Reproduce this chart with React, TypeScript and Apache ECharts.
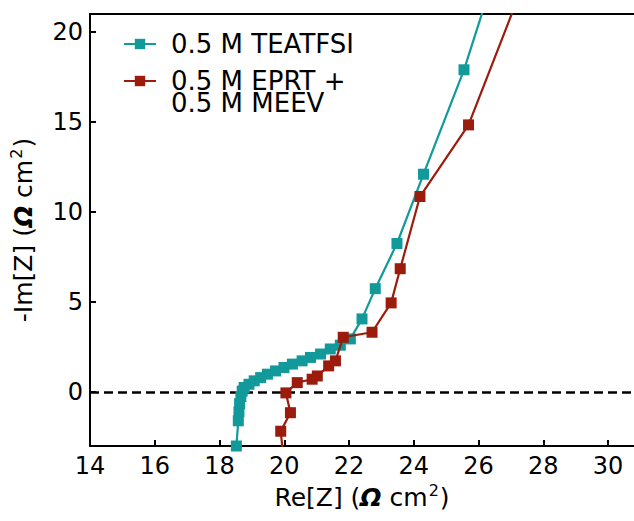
import React, { useEffect, useRef } from "react";
import * as echarts from "echarts";

// 0.5 M TEATFSI (teal)
const teatfsiRe = [18.52, 18.58, 18.6, 18.62, 18.66, 18.7, 18.76, 18.91, 19.07, 19.27, 19.48, 19.73, 19.99, 20.25, 20.55, 20.81, 21.12, 21.42, 21.73, 22.04, 22.4, 22.81, 23.48, 24.3, 25.55, 26.9];
const teatfsiIm = [-3.0, -1.6, -1.1, -0.65, -0.25, 0.05, 0.25, 0.43, 0.62, 0.8, 0.99, 1.17, 1.36, 1.55, 1.73, 1.92, 2.11, 2.39, 2.6, 2.95, 4.06, 5.74, 8.25, 12.1, 17.9, 25.5];

// 0.5 M EPRT + 0.5 M MEEV (red)
const eprtRe = [19.97, 19.89, 20.19, 20.05, 20.4, 20.86, 21.02, 21.37, 21.58, 21.82, 22.71, 23.3, 23.58, 24.19, 25.69, 27.5];
const eprtIm = [-3.6, -2.18, -1.15, -0.05, 0.52, 0.71, 0.89, 1.45, 1.73, 3.04, 3.32, 4.95, 6.85, 10.86, 14.84, 23.2];

const xTicks = [14, 16, 18, 20, 22, 24, 26, 28, 30];
const yTicks = [0, 5, 10, 15, 20];

const seriesNames = ["0.5 M TEATFSI", "0.5 M EPRT +\n0.5 M MEEV"];

const TEAL = "#12999a";
const RED = "#9b1b0c";
const FONT = "DejaVu Sans";

export default function App() {
  const ref = useRef<HTMLDivElement>(null);
  useEffect(() => {
    if (!ref.current) return;
    const chart = echarts.init(ref.current, undefined, { renderer: "svg" });
    const rich = {
      a: { fontSize: 25, fontFamily: FONT, color: "#000", lineHeight: 30 },
      b: { fontSize: 25, fontFamily: FONT, color: "#000", fontWeight: "bold", fontStyle: "italic", lineHeight: 30 },
      c: { fontSize: 16, fontFamily: FONT, color: "#000", padding: [0, 1, 14, 1] },
    };
    const axisLineStyle = { color: "#000", width: 2 };
    chart.setOption({
      animation: false,
      grid: {
        left: 87,
        top: 14,
        right: 0,
        bottom: 75,
        containLabel: false,
      },
      legend: [
        {
          data: [seriesNames[0]],
          orient: "vertical",
          left: 123,
          top: 31,
          padding: 0,
          itemWidth: 32,
          itemHeight: 13,
          textStyle: { fontSize: 26, fontFamily: FONT, color: "#000", lineHeight: 22, padding: [0, 0, 0, 10] },
        },
        {
          data: [seriesNames[1]],
          orient: "vertical",
          left: 123,
          top: 46,
          padding: 0,
          itemWidth: 32,
          itemHeight: 13,
          formatter: (name: string) => "\n" + name,
          textStyle: { fontSize: 26, fontFamily: FONT, color: "#000", lineHeight: 22, padding: [0, 0, 0, 10] },
        },
      ],
      xAxis: [
        {
          type: "value",
          position: "bottom",
          min: 14,
          max: 30.8,
          name: "{a|Re[Z] (}{b|Ω}{a| cm}{c|2}{a|)}",
          nameLocation: "middle",
          nameGap: 32,
          nameTextStyle: { rich },
          axisLine: { onZero: false, lineStyle: axisLineStyle },
          axisTick: { inside: true, length: 6, customValues: xTicks, lineStyle: axisLineStyle },
          axisLabel: { customValues: xTicks, fontSize: 24, fontFamily: FONT, color: "#000", margin: 8 },
          splitLine: { show: false },
        },
        {
          type: "value",
          position: "top",
          min: 14,
          max: 30.8,
          axisLine: { show: true, onZero: false, lineStyle: axisLineStyle },
          axisTick: { show: false },
          axisLabel: { show: false },
          splitLine: { show: false },
        },
      ],
      yAxis: {
        type: "value",
        min: -3,
        max: 21,
        name: "{a|-Im[Z] (}{b|Ω}{a| cm}{c|2}{a|)}",
        nameLocation: "middle",
        nameRotate: 90,
        nameGap: 52,
        nameTextStyle: { rich },
        axisLine: { onZero: false, lineStyle: axisLineStyle },
        axisTick: { inside: true, length: 6, customValues: yTicks, lineStyle: axisLineStyle },
        axisLabel: { customValues: yTicks, fontSize: 24, fontFamily: FONT, color: "#000", margin: 7 },
        splitLine: { show: false },
      },
      series: [
        {
          name: seriesNames[0],
          type: "line",
          xAxisIndex: 0,
          data: teatfsiRe.map((x, i) => [x, teatfsiIm[i]]),
          symbol: "rect",
          symbolSize: 11,
          showAllSymbol: true,
          color: TEAL,
          lineStyle: { color: TEAL, width: 2.2 },
          itemStyle: { color: TEAL },
          clip: true,
          z: 3,
          markLine: {
            silent: true,
            symbol: ["none", "none"],
            label: { show: false },
            lineStyle: { color: "#000", type: [9, 5], width: 2.5 },
            data: [{ yAxis: 0 }],
            z: 1,
          },
        },
        {
          name: seriesNames[1],
          type: "line",
          xAxisIndex: 0,
          data: eprtRe.map((x, i) => [x, eprtIm[i]]),
          symbol: "rect",
          symbolSize: 11,
          showAllSymbol: true,
          color: RED,
          lineStyle: { color: RED, width: 2.2 },
          itemStyle: { color: RED },
          clip: true,
          z: 4,
        },
      ],
    });
    return () => chart.dispose();
  }, []);
  return <div ref={ref} style={{ position: "absolute", left: 0, top: 0, width: 634, height: 521 }} />;
}
